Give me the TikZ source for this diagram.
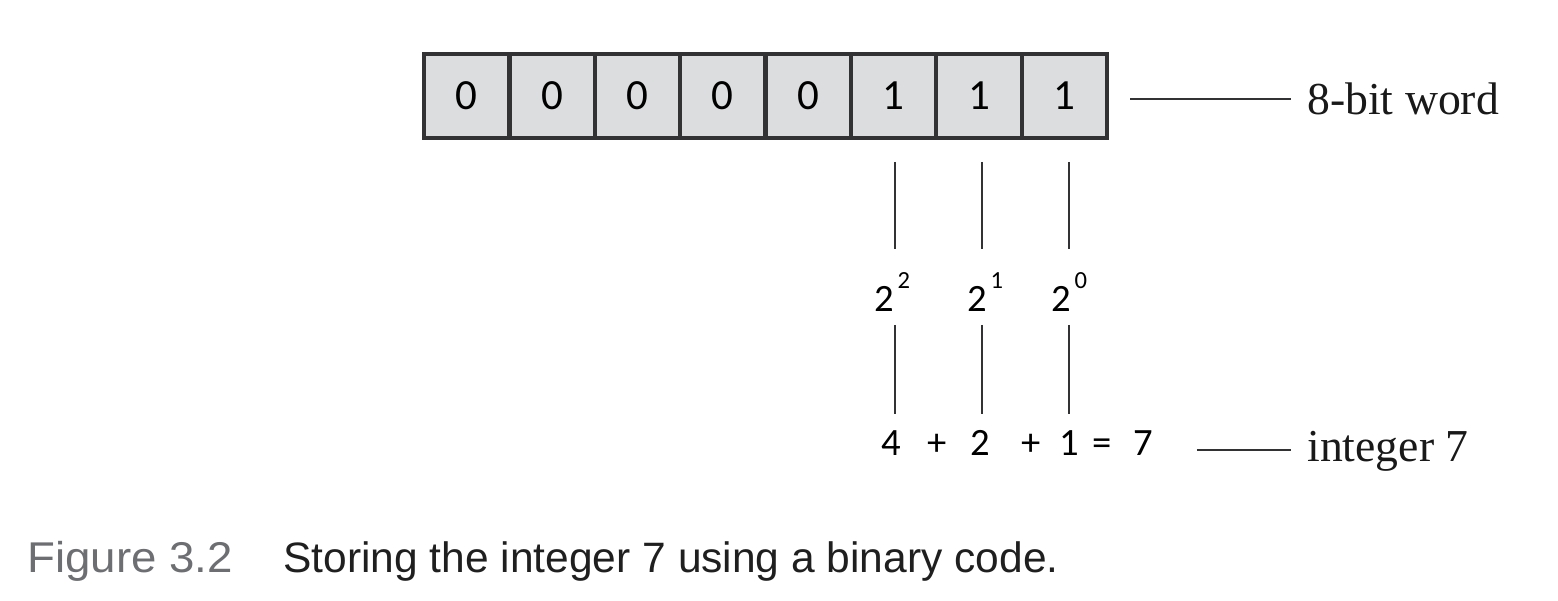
\documentclass[tikz,border=0pt]{standalone}
\usepackage{fontspec}
\setmainfont{Liberation Serif}
\setsansfont{Liberation Sans}
\newfontfamily\bitfont{Carlito}
\usepackage{tikz}

\definecolor{cellgray}{RGB}{220,221,223}
\definecolor{inkgray}{RGB}{50,50,52}
\definecolor{capgray}{RGB}{109,110,113}
\newcommand{\pwtwo}[1]{2\hspace{0.1em}\raisebox{0.58em}{\fontsize{14}{14}\selectfont #1}}

\begin{document}
\begin{tikzpicture}[x=0.02cm, y=-0.02cm,
    cell/.style={draw=inkgray, fill=cellgray, line width=0.085cm, minimum width=1.7075cm,
      minimum height=1.68cm, inner sep=0, outer sep=0, font=\bitfont\fontsize{24.5}{24.5}\selectfont},
    power/.style={minimum height=1.32cm, inner sep=0, outer sep=0, font=\bitfont\fontsize{22}{22}\selectfont},
    sumtok/.style={minimum height=1.44cm, text height=0.63em, text depth=0pt, inner sep=0, outer sep=0,
      font=\bitfont\fontsize{22}{22}\selectfont},
    tag/.style={inner sep=0, anchor=base west, font=\fontsize{26}{26}\selectfont, text=black!90},
    tick/.style={draw=inkgray, line width=0.04cm}]
    \useasboundingbox (0,0) rectangle (1558,601);
    % the word
    \foreach \bit [count=\i] in {0,0,0,0,0,1,1,1} {
      \node[cell] (b\i) at ({424+85.375*(\i-0.5)},96) {\bit};
    }
    \node[tag] (word) at (1307,115) {8-bit word};
    \draw[tick, shorten <=0.46cm, shorten >=0.32cm] (b8.east |- word.west) -- (word.west);
    % place values
    \node[power] (p2) at (892,292) {\pwtwo{2}};
    \node[power] (p1) at (985,292) {\pwtwo{1}};
    \node[power] (p0) at (1069,292) {\pwtwo{0}};
    \node[sumtok] (s4) at (891,450) {4};
    \node[sumtok] (plusa) at (937,450) {+};
    \node[sumtok] (s2) at (980,450) {2};
    \node[sumtok] (plusb) at (1031,450) {+};
    \node[sumtok] (s1) at (1069,450) {1};
    \node[sumtok] (eq) at (1102,450) {=};
    \node[sumtok] (res) at (1143,450) {7};
    \foreach \c/\e/\x in {6/2/895, 7/1/982, 8/0/1069} {
      \coordinate (top\e) at (\x,138);
      \draw[tick, shorten <=0.48cm, shorten >=0.2cm] (top\e) -- (top\e |- p\e.north);
      \draw[tick] (top\e |- p\e.south) -- (top\e |- s4.north);
    }
    \node[tag] (int) at (1307,461) {integer 7};
    \draw[tick, shorten <=0.88cm, shorten >=0.32cm] (res.east) -- (res.east -| int.west);
    % caption
    \node[inner sep=0, anchor=base west, font=\sffamily\fontsize{24.5}{24.5}\selectfont, text=capgray] (fig) at (27,572) {\scalebox{1.06}[1]{Figure 3.2}};
    \node[inner sep=0, anchor=base west, font=\sffamily\fontsize{24.2}{24.2}\selectfont, text=black!88] (cap) at (283,572) {Storing the integer 7 using a binary code.};
\end{tikzpicture}
\end{document}
